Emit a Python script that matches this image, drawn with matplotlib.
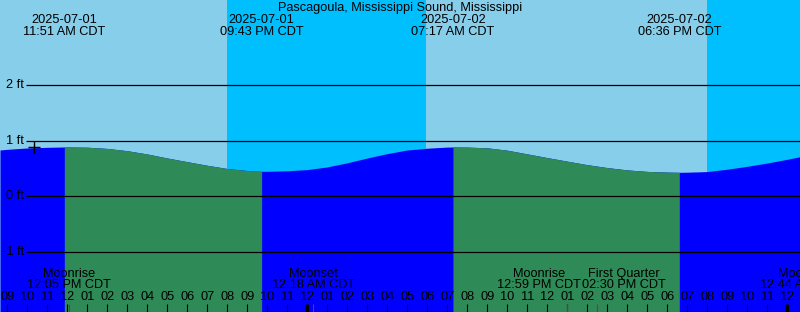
import numpy as np
import matplotlib.pyplot as plt

plt.rcParams['font.family'] = ['Liberation Sans', 'DejaVu Sans']

# hours counted from 00:00 CDT on 2025-07-01
t_start = 8.635
t_end = 48.635

# tide height curve (ft)
tide_hours = [8.635, 9, 10, 11, 11.85, 12, 13, 14, 15, 16, 17, 18, 19, 20,
              21, 21.717, 22, 23, 24, 25, 26, 27, 28, 29, 30, 31, 31.283,
              32, 33, 34, 35, 36, 37, 38, 39, 40, 41, 42, 42.6, 43, 44, 45,
              46, 47, 48, 48.635]
tide_ft = [0.832, 0.844, 0.868, 0.880, 0.886, 0.886, 0.882, 0.860, 0.819,
           0.760, 0.688, 0.622, 0.557, 0.499, 0.463, 0.449, 0.449, 0.458,
           0.480, 0.528, 0.602, 0.688, 0.767, 0.832, 0.864, 0.884, 0.886,
           0.884, 0.871, 0.828, 0.762, 0.695, 0.631, 0.568, 0.516, 0.474,
           0.447, 0.435, 0.431, 0.433, 0.444, 0.487, 0.539, 0.598, 0.665,
           0.711]

# high / low tides shown at the top
extreme_hours = [11.85, 21.717, 31.283, 42.6]
extreme_dates = ["2025-07-01", "2025-07-01", "2025-07-02", "2025-07-02"]
extreme_times = ["11:51 AM CDT", "09:43 PM CDT", "07:17 AM CDT", "06:36 PM CDT"]

# falling tide spans (green)
ebb_spans = [(11.85, 21.717), (31.283, 42.6)]

# night spans (sunset -> sunrise)
night_spans = [(19.983, 29.933), (43.983, 49.0)]

# moon events along the bottom
moon_hours = [12.083, 24.3, 36.983, 38.5, 48.733]
moon_names = ["Moonrise", "Moonset", "Moonrise", "First Quarter", "Moonset"]
moon_times = ["12:05 PM CDT", "12:18 AM CDT", "12:59 PM CDT", "02:30 PM CDT",
              "12:44 AM CDT"]
moon_label_shift = [0, 0, -1.4, 1.35, 0]

levels = [-1, 0, 1, 2]
now_hour, now_ft = 10.335, 0.877

day_color = '#87ceeb'
night_color = '#00bfff'
flood_color = '#0000ff'
ebb_color = '#2e8b57'
fs = 9.2

fig = plt.figure(figsize=(8, 3.12), dpi=100)
ax = fig.add_axes([0, 0, 1, 1])
ax.set_xlim(t_start, t_end)
ax.set_ylim(-2.078, 3.526)
ax.axis('off')
xt = ax.get_xaxis_transform()


def yf(py):
    return 1 - py / 312.0


ax.axvspan(t_start, t_end, color=day_color, lw=0)
for a, b in night_spans:
    ax.axvspan(a, b, color=night_color, lw=0)

hrs = np.array(tide_hours)
ft = np.array(tide_ft)
ax.fill_between(hrs, -3, ft, color=flood_color, lw=0)
for a, b in ebb_spans:
    m = (hrs >= a) & (hrs <= b)
    ax.fill_between(hrs[m], -3, ft[m], color=ebb_color, lw=0)

ax.hlines(levels, t_start + 1.3, t_end, color='black', lw=0.9)
for lv in levels:
    ax.text(t_start + 1.2, lv, f"{lv} ft", ha='right', va='center', fontsize=fs)

ax.plot([now_hour], [now_ft], marker='+', color='black', ms=8, mew=1)

ax.text(0.5, yf(8), "Pascagoula, Mississippi Sound, Mississippi",
        transform=ax.transAxes, ha='center', va='center', fontsize=fs)
for h, d, t in zip(extreme_hours, extreme_dates, extreme_times):
    ax.text(h, yf(20), d, transform=xt, ha='center', va='center', fontsize=fs)
    ax.text(h, yf(32), t, transform=xt, ha='center', va='center', fontsize=fs)

# hour ticks and labels
for h in range(9, 50):
    lw = 2.4 if h % 24 == 0 else 0.8
    ax.plot([h, h], [yf(304), yf(312)], transform=xt, color='black', lw=lw,
            solid_capstyle='butt', clip_on=True)
    lab = h % 12 or 12
    ax.text(h, yf(297.5), f"{lab:02d}", transform=xt, ha='center', va='center',
            fontsize=fs, clip_on=True)

for h, n, t, s in zip(moon_hours, moon_names, moon_times, moon_label_shift):
    ax.plot([h, h], [yf(304), yf(312)], transform=xt, color='red', lw=0.8,
            solid_capstyle='butt', clip_on=True)
    ax.text(h + s, yf(274), n, transform=xt, ha='center', va='center',
            fontsize=fs, clip_on=True)
    ax.text(h + s, yf(285.5), t, transform=xt, ha='center', va='center',
            fontsize=fs, clip_on=True)

fig.savefig('out.png', dpi=100)
